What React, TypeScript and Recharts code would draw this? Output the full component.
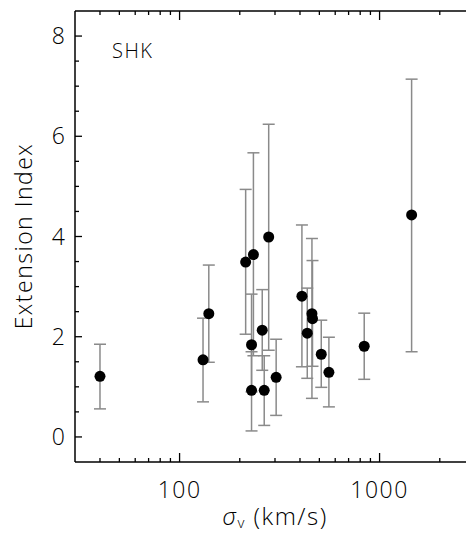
import React from "react";
import { ScatterChart, Scatter, XAxis, YAxis, ErrorBar } from "recharts";

// velocity dispersion (km/s)
const sigmaV = [40, 131, 140, 214, 234, 229, 229, 259, 265, 279, 304, 409, 435, 459, 462, 511, 558, 838, 1446];
// extension index
const extIndex = [1.21, 1.54, 2.46, 3.49, 3.64, 1.84, 0.93, 2.13, 0.93, 3.99, 1.19, 2.81, 2.07, 2.46, 2.36, 1.65, 1.29, 1.81, 4.43];
// error bar ends
const errLow = [0.56, 0.7, 1.49, 2.05, 1.62, 0.9, 0.12, 1.33, 0.23, 1.73, 0.43, 1.4, 1.17, 0.77, 1.41, 0.99, 0.6, 1.15, 1.7];
const errHigh = [1.85, 2.37, 3.43, 4.94, 5.67, 2.85, 1.7, 2.94, 1.62, 6.24, 1.95, 4.23, 2.97, 3.96, 3.52, 2.33, 1.99, 2.47, 7.14];

const xTicks = [40, 50, 60, 70, 80, 90, 100, 200, 300, 400, 500, 600, 700, 800, 900, 1000, 2000, 3000];
const xLabels = [100, 1000];
const yTicks = [0, 0.5, 1, 1.5, 2, 2.5, 3, 3.5, 4, 4.5, 5, 5.5, 6, 6.5, 7, 7.5, 8];
const yLabels = [0, 2, 4, 6, 8];

const data = sigmaV.map((x, i) => ({
  x,
  y: extIndex[i],
  err: [extIndex[i] - errLow[i], errHigh[i] - extIndex[i]],
}));

const FONT = "'Open Sans', 'DejaVu Sans', sans-serif";

const BottomTick = (props: any) => {
  const { x, y, payload } = props;
  const major = xLabels.includes(payload.value);
  return (
    <g>
      <line x1={x} x2={x} y1={y} y2={y - (major ? 9 : 4)} stroke="#000" strokeWidth={1.3} />
      {major && (
        <text x={x} y={y + 36} textAnchor="middle" fontSize={23} fontFamily={FONT} fontWeight={300} fill="#000" letterSpacing={1.5}>
          {payload.value}
        </text>
      )}
    </g>
  );
};

const TopTick = (props: any) => {
  const { x, y, payload } = props;
  const major = xLabels.includes(payload.value);
  return <line x1={x} x2={x} y1={y} y2={y + (major ? 9 : 4)} stroke="#000" strokeWidth={1.3} />;
};

const LeftTick = (props: any) => {
  const { x, y, payload } = props;
  const major = yLabels.includes(payload.value);
  return (
    <g>
      <line x1={x} x2={x + (major ? 7 : 4)} y1={y} y2={y} stroke="#000" strokeWidth={1.3} />
      {major && (
        <text x={x - 10} y={y + 8} textAnchor="end" fontSize={23} fontFamily={FONT} fontWeight={300} fill="#000">
          {payload.value}
        </text>
      )}
    </g>
  );
};

const Dot = (props: any) => <circle cx={props.cx} cy={props.cy} r={5.5} fill="#000" />;

export default function App() {
  return (
    <div style={{ position: "fixed", left: 0, top: 0, width: 466, height: 533, overflow: "hidden", background: "#fff" }}>
      <ScatterChart width={490} height={533} margin={{ top: 1, right: 15, bottom: 31, left: 45 }}>
        <XAxis
          xAxisId="bottom"
          type="number"
          dataKey="x"
          scale="log"
          domain={[30, 3000]}
          allowDataOverflow
          ticks={xTicks}
          interval={0}
          height={40}
          tickSize={0}
          tickMargin={0}
          tickLine={false}
          tick={<BottomTick />}
          axisLine={{ stroke: "#000", strokeWidth: 1.5 }}
        />
        <XAxis
          xAxisId="top"
          orientation="top"
          type="number"
          dataKey="x"
          scale="log"
          domain={[30, 3000]}
          allowDataOverflow
          ticks={xTicks}
          interval={0}
          height={10}
          tickSize={0}
          tickMargin={0}
          tickLine={false}
          tick={<TopTick />}
          axisLine={{ stroke: "#000", strokeWidth: 1.5 }}
        />
        <YAxis
          type="number"
          dataKey="y"
          domain={[-0.5, 8.5]}
          allowDataOverflow
          ticks={yTicks}
          interval={0}
          width={30}
          tickSize={0}
          tickMargin={0}
          tickLine={false}
          tick={<LeftTick />}
          axisLine={{ stroke: "#000", strokeWidth: 1.5 }}
        />
        <Scatter xAxisId="bottom" data={data} shape={<Dot />} isAnimationActive={false}>
          <ErrorBar dataKey="err" direction="y" width={6} stroke="#8a8a8a" strokeWidth={1.5} isAnimationActive={false} />
        </Scatter>
      </ScatterChart>
      <svg width={466} height={533} style={{ position: "absolute", left: 0, top: 0, pointerEvents: "none" }}>
        <text x={112} y={58} fontSize={20} fontFamily={FONT} fontWeight={300} fill="#000" letterSpacing={1.5}>
          SHK
        </text>
        <text
          x={0}
          y={0}
          transform="translate(32 236) rotate(-90)"
          textAnchor="middle"
          fontSize={23}
          fontFamily={FONT}
          fontWeight={300}
          fill="#000"
          letterSpacing={1.5}
        >
          Extension Index
        </text>
        <text x={275} y={525} textAnchor="middle" fontSize={24} fontFamily={FONT} fontWeight={300} fill="#000" letterSpacing={1.5}>
          <tspan fontStyle="italic">σ</tspan>
          <tspan fontSize={15} dy={3}>v</tspan>
          <tspan dy={-3}> (km/s)</tspan>
        </text>
      </svg>
    </div>
  );
}
